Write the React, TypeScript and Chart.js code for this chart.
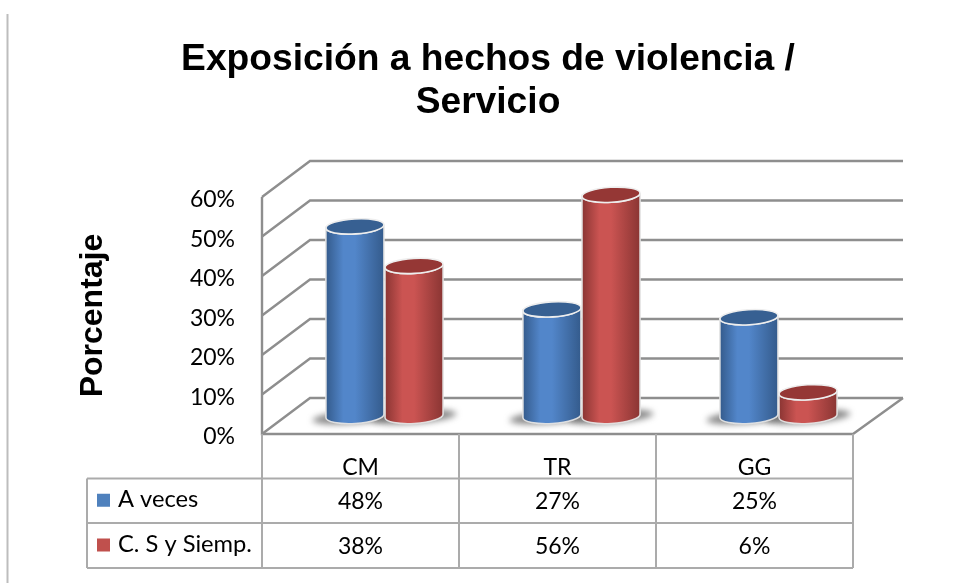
import React, { useEffect, useRef } from "react";
import { Chart, registerables } from "chart.js";

Chart.register(...registerables);

const titleLines = ["Exposición a hechos de violencia /", "Servicio"];
const yAxisTitle = "Porcentaje";
const categories = ["CM", "TR", "GG"];
const seriesNames = ["A veces", "C. S y Siemp."];
const aVeces = [48, 27, 25];
const cSiempre = [38, 56, 6];
const seriesValues = [aVeces, cSiempre];

const BODY_FONT = "Lato, 'Open Sans', sans-serif";
const GRID = "#8e8e8e";
const TABLE = "#ababab";
const palette = [
  { key: "#4F81BD", edge: "#345B8C", mid: "#5286CA", top: "#376092" },
  { key: "#C0504D", edge: "#8A3533", mid: "#CB5452", top: "#953735" },
];

const DEPTH_X = 48;
const DEPTH_Y = -36;

const scene = {
  id: "scene",
  afterLayout(chart: any) {
    // the title is centred on the plot group rather than on the whole canvas
    chart.titleBlock.left += 61.5;
    chart.titleBlock.right += 61.5;
  },
  beforeDatasetsDraw(chart: any) {
    const { ctx, chartArea, scales } = chart;
    const y = scales.y;
    const { left, right } = chartArea;
    const y0 = y.getPixelForValue(0);
    const h = chart.height;
    ctx.save();
    // page rule at the far left
    ctx.strokeStyle = "#bdbdbd";
    ctx.lineWidth = 2;
    ctx.beginPath();
    ctx.moveTo(7.5, 14);
    ctx.lineTo(7.5, h);
    ctx.stroke();
    // 3D walls and floor
    ctx.strokeStyle = GRID;
    ctx.lineWidth = 2.4;
    y.ticks.forEach((t: any) => {
      const py = y.getPixelForValue(t.value);
      ctx.beginPath();
      ctx.moveTo(left, py);
      ctx.lineTo(left + DEPTH_X, py + DEPTH_Y);
      ctx.lineTo(right + DEPTH_X + 2, py + DEPTH_Y);
      ctx.stroke();
    });
    ctx.beginPath();
    ctx.moveTo(left, y.getPixelForValue(y.max));
    ctx.lineTo(left, y0);
    ctx.lineTo(right, y0);
    ctx.lineTo(right + DEPTH_X + 2, y0 + DEPTH_Y);
    ctx.stroke();
    ctx.restore();
  },
  beforeDatasetDraw() {
    return false; // the flat bars are replaced by cylinders below
  },
  afterDatasetsDraw(chart: any) {
    const { ctx } = chart;
    const metas = [chart.getDatasetMeta(0), chart.getDatasetMeta(1)];
    const tilt = -0.06;
    const offX = DEPTH_X / 2;
    const offY = DEPTH_Y / 2;
    // floor shadows
    ctx.save();
    ctx.filter = "blur(3px)";
    ctx.fillStyle = "rgba(85,85,85,0.7)";
    metas.forEach((m) =>
      m.data.forEach((el: any) => {
        ctx.beginPath();
        ctx.ellipse(el.x + offX, el.base + offY + 1, el.width * 0.72, 6.5, -0.08, 0, Math.PI * 2);
        ctx.fill();
      })
    );
    ctx.restore();
    metas.forEach((m, s) => {
      const c = palette[s];
      m.data.forEach((el: any) => {
        const cx = el.x + offX;
        const rx = el.width / 2 - 0.5;
        const ry = 7.5;
        const top = el.y + offY;
        const base = el.base + offY;
        const grad = ctx.createLinearGradient(cx - rx, 0, cx + rx, 0);
        grad.addColorStop(0, c.edge);
        grad.addColorStop(0.3, c.mid);
        grad.addColorStop(0.5, c.mid);
        grad.addColorStop(1, c.edge);
        ctx.save();
        ctx.beginPath();
        ctx.ellipse(cx, base, rx, ry, tilt, 0, Math.PI);
        ctx.lineTo(cx - rx, top);
        ctx.ellipse(cx, top, rx, ry, tilt, Math.PI, 0, true);
        ctx.closePath();
        ctx.fillStyle = grad;
        ctx.fill();
        ctx.strokeStyle = "rgba(228,228,228,0.95)";
        ctx.lineWidth = 1.6;
        ctx.stroke();
        ctx.beginPath();
        ctx.ellipse(cx, top, rx, ry, tilt, 0, Math.PI * 2);
        ctx.fillStyle = c.top;
        ctx.fill();
        ctx.strokeStyle = "#eeeeee";
        ctx.lineWidth = 1.6;
        ctx.stroke();
        ctx.restore();
      });
    });
  },
  afterDraw(chart: any) {
    const { ctx, chartArea, scales } = chart;
    const { left, right } = chartArea;
    const x = scales.x;
    const y0 = scales.y.getPixelForValue(0);
    const rows = [478.5, 523, 568];
    const tableLeft = 87;
    const bandW = x.getPixelForValue(1) - x.getPixelForValue(0);
    ctx.save();
    ctx.strokeStyle = TABLE;
    ctx.lineWidth = 2;
    // verticals under the floor, one at each category boundary
    categories.forEach((_, i) => {
      const vx = left + i * bandW;
      ctx.beginPath();
      ctx.moveTo(vx, y0);
      ctx.lineTo(vx, rows[2]);
      ctx.stroke();
    });
    ctx.beginPath();
    ctx.moveTo(right, y0);
    ctx.lineTo(right, rows[2]);
    ctx.stroke();
    ctx.beginPath();
    ctx.moveTo(tableLeft, rows[0]);
    ctx.lineTo(tableLeft, rows[2]);
    ctx.stroke();
    rows.forEach((r) => {
      ctx.beginPath();
      ctx.moveTo(tableLeft, r);
      ctx.lineTo(right, r);
      ctx.stroke();
    });
    ctx.textBaseline = "middle";
    ctx.fillStyle = "#000";
    seriesNames.forEach((name, s) => {
      const cy = (rows[s] + rows[s + 1]) / 2;
      ctx.fillStyle = palette[s].key;
      ctx.fillRect(97, cy - 7, 13, 13);
      ctx.fillStyle = "#000";
      ctx.textAlign = "left";
      ctx.font = `23.7px ${BODY_FONT}`;
      ctx.fillText(name, 118, cy - 1);
      ctx.textAlign = "center";
      ctx.font = `23px ${BODY_FONT}`;
      seriesValues[s].forEach((v, i) => {
        ctx.fillText(`${v}%`, x.getPixelForValue(i), cy + 1);
      });
    });
    ctx.restore();
  },
};

export default function App() {
  const ref = useRef<HTMLCanvasElement | null>(null);
  useEffect(() => {
    const chart = new Chart(ref.current as HTMLCanvasElement, {
      type: "bar",
      data: {
        labels: categories,
        datasets: seriesNames.map((label, s) => ({
          label,
          data: seriesValues[s],
          backgroundColor: palette[s].key,
        })),
      },
      options: {
        responsive: false,
        animation: false,
        layout: { padding: { left: 0, right: 102, top: 0, bottom: 0 } },
        datasets: { bar: { barPercentage: 1, categoryPercentage: 0.6 } },
        plugins: {
          legend: { display: false },
          tooltip: { enabled: false },
          title: {
            display: true,
            text: titleLines,
            color: "#000",
            font: { family: "'Liberation Sans', Arial, sans-serif", size: 37.2, weight: "bold", lineHeight: 1.156 },
            padding: { top: 38, bottom: 73 },
          },
        },
        scales: {
          x: {
            grid: { display: false },
            border: { display: false },
            afterFit(scale: any) {
              scale.height = 149;
            },
            ticks: {
              color: "#000",
              autoSkip: false,
              maxRotation: 0,
              minRotation: 0,
              padding: 12,
              font: { family: BODY_FONT, size: 23 },
            },
          },
          y: {
            min: 0,
            max: 60,
            grid: { display: false },
            border: { display: false },
            afterFit(scale: any) {
              scale.width = 262;
            },
            ticks: {
              stepSize: 10,
              color: "#000",
              padding: 19,
              labelOffset: 3,
              font: { family: BODY_FONT, size: 23 },
              callback: (v: any) => `${v}%`,
            },
            title: {
              display: true,
              text: yAxisTitle,
              color: "#000",
              font: { family: "'Liberation Sans', Arial, sans-serif", size: 32, weight: "bold" },
              padding: { top: 74, bottom: 0 },
            },
          },
        },
      },
      plugins: [scene],
    } as any);
    return () => chart.destroy();
  }, []);
  return (
    <canvas
      ref={ref}
      width={955}
      height={583}
      style={{ position: "absolute", left: 0, top: 0, display: "block", background: "#fff" }}
    />
  );
}
